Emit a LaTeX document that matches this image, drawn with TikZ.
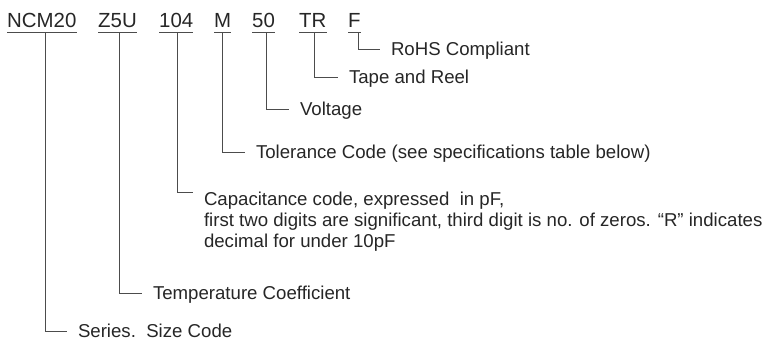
\documentclass[tikz,border=0pt]{standalone}
\usepackage{fontspec}
\setmainfont{Liberation Sans}
\begin{document}
\begin{tikzpicture}[x=1bp, y=-1bp, font=\fontsize{18.7}{21}\selectfont]
      \tikzstyle{fieldnode}=[inner sep=0, anchor=base west, text=black!85, font=\fontsize{20.5}{24}\selectfont]
      \tikzstyle{descnode}=[inner sep=0, outer xsep=11bp, anchor=west, text=black!85, text height=13.3bp, text depth=0pt]
      \tikzstyle{blocknode}=[inner sep=0, outer xsep=11bp, anchor=north west, text=black!85, align=left]
      \tikzstyle{leader}=[draw=black!70, line width=0.9bp]
      \useasboundingbox (0,0) rectangle (763,341);
      % part number fields
      \node[fieldnode] (series) at (7,27) {NCM20};
      \node[fieldnode] (tempco) at (98,27) {Z5U};
      \node[fieldnode] (capcode) at (159,27) {104};
      \node[fieldnode] (tolcode) at (214,27) {M};
      \node[fieldnode] (volts) at (252,27) {50};
      \node[fieldnode] (reel) at (299,27) {TR};
      \node[fieldnode] (rohs) at (348,27) {F};
      \foreach \f in {series,tempco,capcode,tolcode,volts,reel,rohs}
        \draw[leader] ([yshift=-5bp]\f.base west) -- ([yshift=-5bp]\f.base east);
      % where the leaders leave the underlines
      \coordinate (series-tap) at (45,32);
      \coordinate (tempco-tap) at (119,32);
      \coordinate (capcode-tap) at (177,32);
      \coordinate (tolcode-tap) at (222,32);
      \coordinate (volts-tap) at (266,32);
      \coordinate (reel-tap) at (314,32);
      \coordinate (rohs-tap) at (358,32);
      % descriptions
      \node[descnode] (rohs-txt) at (380,49) {RoHS Compliant};
      \node[descnode] (reel-txt) at (338,77) {Tape and Reel};
      \node[descnode] (volts-txt) at (289,109) {Voltage};
      \node[descnode] (tolcode-txt) at (245,152) {Tolerance Code (see specifications table below)};
      \node[blocknode] (capcode-txt) at (193,192) {Capacitance code, expressed\ \ in pF,\\
        first two digits are significant, third digit is no. of zeros. “R” indicates\\
        decimal for under 10pF};
      \node[descnode] (tempco-txt) at (142,293) {Temperature Coefficient};
      \node[descnode] (series-txt) at (67,331) {Series.\ \ Size Code};
      \draw[leader] (rohs-tap) |- (rohs-txt.west);
      \draw[leader] (reel-tap) |- (reel-txt.west);
      \draw[leader] (volts-tap) |- (volts-txt.west);
      \draw[leader] (tolcode-tap) |- (tolcode-txt.west);
      \draw[leader] (capcode-tap) |- (capcode-txt.north west);
      \draw[leader] (tempco-tap) |- (tempco-txt.west);
      \draw[leader] (series-tap) |- (series-txt.west);
\end{tikzpicture}
\end{document}
